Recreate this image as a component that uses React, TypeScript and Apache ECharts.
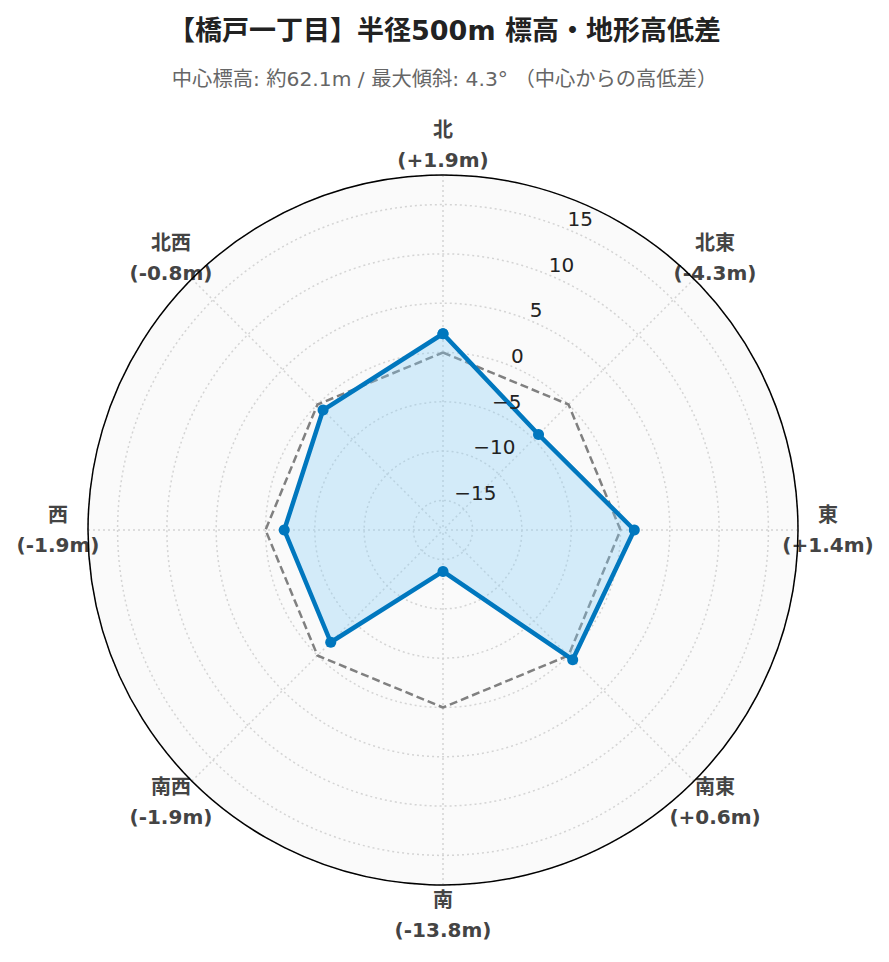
import React, { useEffect, useRef } from 'react';
import * as echarts from 'echarts';

const TITLE = '【橋戸一丁目】半径500m 標高・地形高低差';
const SUBTITLE = '中心標高: 約62.1m / 最大傾斜: 4.3° （中心からの高低差）';

const directions = ['北', '北東', '東', '南東', '南', '南西', '西', '北西'];
const directionAngles = [0, 45, 90, 135, 180, 225, 270, 315];
const heightDiffs = [1.9, -4.3, 1.4, 0.6, -13.8, -1.9, -1.9, -0.8];
const baseline = [0, 0, 0, 0, 0, 0, 0, 0];
const radialTicks = [-15, -10, -5, 0, 5, 10, 15];
const radialRange = [-18, 18];

const FONT = '"DejaVu Sans", "Noto Sans CJK JP", sans-serif';
const CENTER = [443, 530];
const RADIUS = 355;
const LABEL_BOX = 60;

const fmtDiff = (v: number) => (v > 0 ? '+' : '') + v.toFixed(1) + 'm';

const closeLoop = (vals: number[]) => {
  const pts = vals.map((v, i) => [v, directionAngles[i]]);
  pts.push([vals[0], 360]);
  return pts;
};

const dirLabel = (value: number, diagonal: boolean) => {
  const i = directionAngles.indexOf(Math.round(value) % 360);
  if (i < 0) return '';
  if ((i % 2 === 1) !== diagonal) return '';
  return '{n|' + directions[i] + '}\n{n|(' + fmtDiff(heightDiffs[i]) + ')}';
};

const labelRich = {
  n: {
    width: LABEL_BOX,
    height: LABEL_BOX / 2,
    lineHeight: LABEL_BOX / 2,
    align: 'center',
    verticalAlign: 'middle',
    fontFamily: FONT,
    fontSize: 20,
    fontWeight: 'bold',
    color: '#444',
    overflow: 'none',
  },
};

export default function App() {
  const ref = useRef<HTMLDivElement>(null);

  useEffect(() => {
    if (!ref.current) return;
    const chart = echarts.init(ref.current, undefined, { renderer: 'svg' });
    const dotted = { color: '#d4d4d4', type: [2, 3], width: 1.5 };

    chart.setOption({
      animation: false,
      backgroundColor: '#ffffff',
      title: [
        {
          text: TITLE,
          left: 'center',
          top: 12,
          textStyle: { fontFamily: FONT, fontSize: 27, fontWeight: 'bold', color: '#222' },
        },
        {
          text: SUBTITLE,
          left: 'center',
          top: 64,
          textStyle: { fontFamily: FONT, fontSize: 20.3, fontWeight: 'normal', color: '#666' },
        },
      ],
      polar: [
        { center: CENTER, radius: RADIUS },
        { center: CENTER, radius: RADIUS },
        { center: CENTER, radius: RADIUS },
      ],
      angleAxis: [
        {
          polarIndex: 0,
          type: 'value',
          min: 0,
          max: 360,
          interval: 45,
          startAngle: 90,
          clockwise: true,
          axisLine: { show: true, lineStyle: { color: '#000', width: 1.5 } },
          axisTick: { show: false },
          splitLine: { show: true, lineStyle: dotted },
          splitArea: { show: false },
          axisLabel: {
            show: true,
            margin: 0,
            formatter: (value: number) => dirLabel(value, false),
            rich: labelRich,
          },
        },
        {
          polarIndex: 1,
          type: 'value',
          min: 0,
          max: 360,
          interval: 45,
          startAngle: 67.5,
          z: -2,
          axisLine: { show: false },
          axisTick: { show: false },
          axisLabel: { show: false },
          splitLine: { show: false },
          splitArea: { show: true, areaStyle: { color: ['#fafafa'] } },
        },
        {
          polarIndex: 2,
          type: 'value',
          min: 0,
          max: 360,
          interval: 45,
          startAngle: 90,
          clockwise: true,
          axisLine: { show: false },
          axisTick: { show: false },
          splitLine: { show: false },
          splitArea: { show: false },
          axisLabel: {
            show: true,
            margin: -12.7,
            formatter: (value: number) => dirLabel(value, true),
            rich: labelRich,
          },
        },
      ],
      radiusAxis: [
        {
          polarIndex: 0,
          type: 'value',
          min: radialRange[0],
          max: radialRange[1],
          splitNumber: 7,
          axisLine: { show: false },
          axisTick: { show: false },
          axisLabel: { show: false },
          splitLine: { show: true, lineStyle: dotted },
        },
        {
          polarIndex: 1,
          type: 'value',
          min: radialRange[0],
          max: radialRange[1],
          splitNumber: 7,
          z: 10,
          axisLine: { show: false },
          axisTick: { show: false },
          splitLine: { show: false },
          axisLabel: {
            show: true,
            showMinLabel: false,
            showMaxLabel: false,
            margin: 0,
            align: 'left',
            verticalAlign: 'bottom',
            fontFamily: FONT,
            fontSize: 20,
            color: '#222',
            formatter: (value: number) =>
              radialTicks.includes(value) ? String(value).replace('-', '\u2212') : '',
          },
        },
        {
          polarIndex: 2,
          type: 'value',
          min: radialRange[0],
          max: radialRange[1],
          splitNumber: 7,
          show: false,
        },
      ],
      series: [
        {
          type: 'line',
          coordinateSystem: 'polar',
          polarIndex: 0,
          data: closeLoop(baseline),
          symbol: 'none',
          lineStyle: { color: '#808080', width: 2.5, type: [8, 4] },
          z: 2,
        },
        {
          type: 'line',
          coordinateSystem: 'polar',
          polarIndex: 0,
          data: closeLoop(heightDiffs),
          symbol: 'circle',
          symbolSize: 11,
          itemStyle: { color: '#0077be' },
          lineStyle: { color: '#0077be', width: 4.5 },
          areaStyle: { color: 'rgba(135,206,250,0.33)', opacity: 1, origin: 'start' },
          z: 3,
        },
      ],
    });

    return () => chart.dispose();
  }, []);

  return (
    <div
      ref={ref}
      style={{ position: 'absolute', left: 0, top: 0, width: 889, height: 962 }}
    />
  );
}
